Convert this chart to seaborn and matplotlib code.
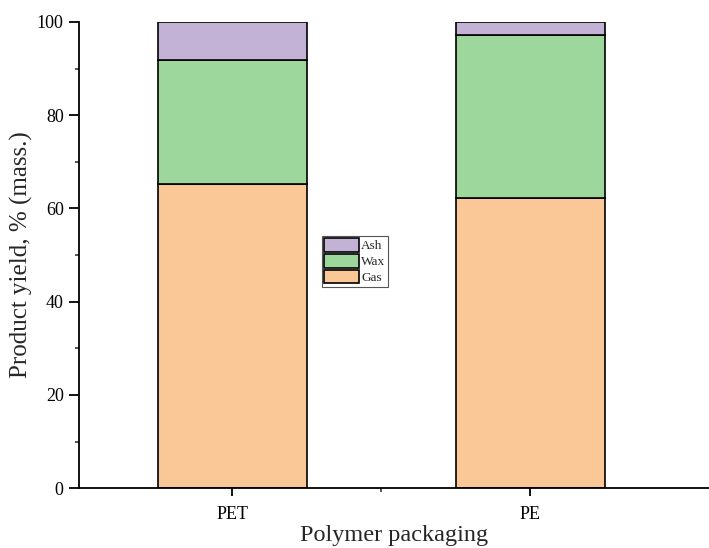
import numpy as np
import pandas as pd
import matplotlib
matplotlib.use("Agg")
import matplotlib.pyplot as plt
import seaborn as sns
from matplotlib.patches import Patch
from matplotlib.ticker import MultipleLocator, FixedLocator

# data
polymers = ["PET", "PE"]
gas = [65.2, 62.2]
wax = [26.6, 34.9]
ash = [8.2, 2.9]

components = ["Gas", "Wax", "Ash"]
colors = {"Gas": "#FAC896", "Wax": "#9ED79C", "Ash": "#C1B2D6"}

df = pd.DataFrame({"Polymer": polymers, "Gas": gas, "Wax": wax, "Ash": ash})

sns.set_style("ticks")
plt.rcParams["font.family"] = ["Liberation Serif", "DejaVu Serif"]

fig = plt.figure(figsize=(7.09, 5.48), dpi=100)
ax = fig.add_axes([0.1114, 0.109, 0.8886, 0.851])

bottom = np.zeros(len(polymers))
for comp in components:
    sns.barplot(data=df, x="Polymer", y=comp, bottom=bottom, color=colors[comp],
                saturation=1, width=0.5, edgecolor="black", linewidth=1.2, ax=ax)
    bottom = bottom + df[comp].values

ax.set_xlim(-0.515, 1.6)
ax.set_ylim(0, 100)
ax.yaxis.set_major_locator(MultipleLocator(20))
ax.yaxis.set_minor_locator(MultipleLocator(10))
ax.xaxis.set_minor_locator(FixedLocator([0.5]))

for s in ["top", "right"]:
    ax.spines[s].set_visible(False)
for s in ["left", "bottom"]:
    ax.spines[s].set_linewidth(1.3)
    ax.spines[s].set_color("black")

ax.tick_params(axis="both", which="major", length=7, width=1.3, labelsize=13,
               colors="black", direction="out")
ax.tick_params(axis="x", which="major", length=6, pad=7)
ax.tick_params(axis="y", which="major", pad=4)
ax.tick_params(axis="both", which="minor", length=3, width=1.1, direction="out")

ax.set_xlabel("Polymer packaging", fontsize=17.5, labelpad=1)
ax.set_ylabel("Product yield, % (mass.)", fontsize=18, labelpad=3)

handles = [Patch(facecolor=colors[c], edgecolor="black", linewidth=1.2, label=c)
           for c in reversed(components)]
leg = ax.legend(handles=handles, loc="center", bbox_to_anchor=(0.438, 0.487),
                fontsize=9.5, frameon=True, fancybox=False, framealpha=1,
                edgecolor="#555555", borderpad=0.2, labelspacing=0.12,
                handlelength=2.6, handleheight=1.2, handletextpad=0.2,
                borderaxespad=0)
leg.get_frame().set_linewidth(0.8)

fig.savefig("out.png", dpi=100)
